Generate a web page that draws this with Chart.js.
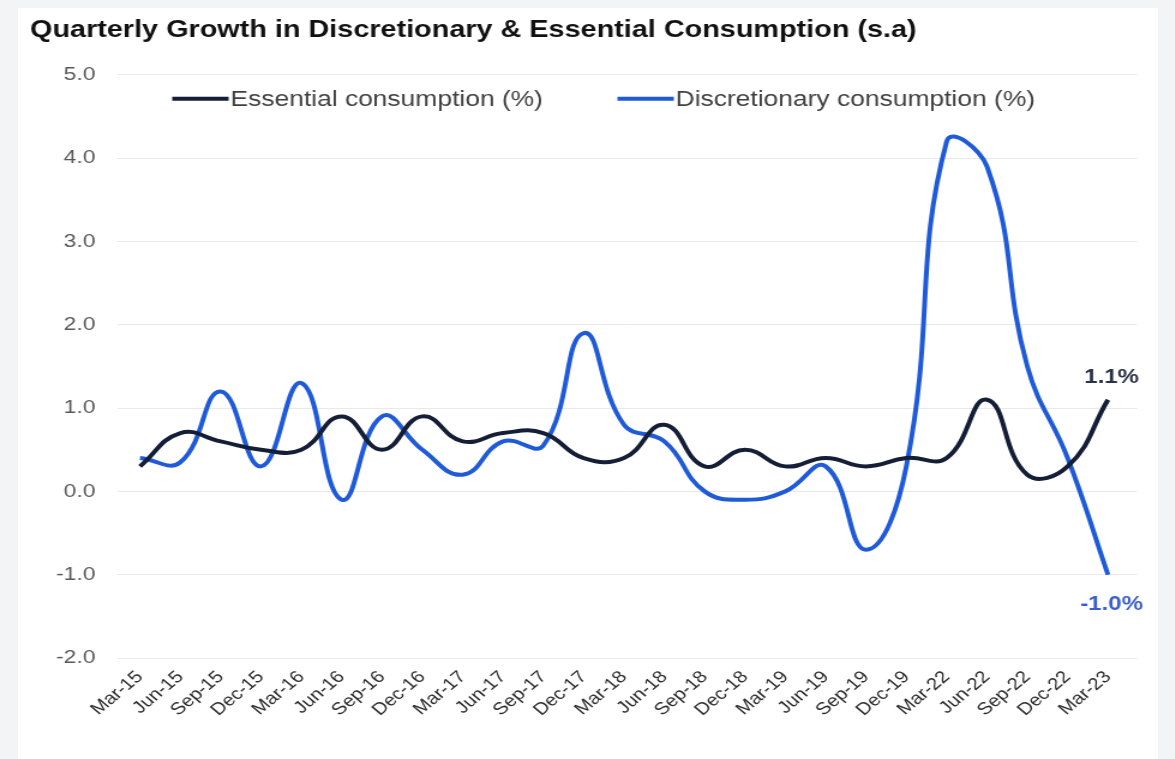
<!DOCTYPE html>
<html>
<head>
<meta charset="utf-8">
<title>Quarterly Growth in Discretionary & Essential Consumption</title>
<script src="https://cdn.jsdelivr.net/npm/chart.js@4.4.1/dist/chart.umd.min.js"></script>
<style>
    body {
        margin: 0;
        background: #f3f4f6;
        font-family: 'Liberation Sans', Arial, sans-serif;
    }
    .panel {
        position: absolute;
        left: 18px;
        top: 8px;
        width: 1140px;
        height: 751px;
        background: #ffffff;
        overflow: hidden;
    }
    /* the chart is laid out narrow and widened, which gives the broad lettering */
    #consumptionChart {
        transform: scaleX(1.2);
        transform-origin: left top;
    }
</style>
</head>
<body>
<div class="panel">
    <canvas id="consumptionChart" width="950" height="751"></canvas>
</div>
<script>
const quarterLabels = [
    'Mar-15', 'Jun-15', 'Sep-15', 'Dec-15',
    'Mar-16', 'Jun-16', 'Sep-16', 'Dec-16',
    'Mar-17', 'Jun-17', 'Sep-17', 'Dec-17',
    'Mar-18', 'Jun-18', 'Sep-18', 'Dec-18',
    'Mar-19', 'Jun-19', 'Sep-19', 'Dec-19',
    'Mar-22', 'Jun-22', 'Sep-22', 'Dec-22',
    'Mar-23',
];
const essentialData = [
    0.3, 0.7, 0.6, 0.5, 0.5, 0.9, 0.5, 0.9, 0.6, 0.7, 0.7, 0.4, 0.4,
    0.8, 0.3, 0.5, 0.3, 0.4, 0.3, 0.4, 0.4, 1.1, 0.2, 0.3, 1.1,
];
const discretionaryData = [
    0.4, 0.35, 1.2, 0.3, 1.3, -0.1, 0.9, 0.5, 0.2, 0.6, 0.55, 1.9, 0.8,
    0.6, 0.0, -0.1, 0.0, 0.3, -0.7, 0.3, 4.2, 3.9, 1.5, 0.4, -1.0,
];
const yTicks = [-2, -1, 0, 1, 2, 3, 4, 5];
const titleText = 'Quarterly Growth in Discretionary & Essential Consumption (s.a)';
const labelEssential = 'Essential consumption (%)';
const labelDiscretionary = 'Discretionary consumption (%)';

const navy = '#141e36';
const blue = '#1f5ad8';
const fontFamily = '"Liberation Sans", Arial, sans-serif';

// linear x axis so the first/last quarter sit a little inside the grid
const toPoints = (data) => data.map((v, i) => ({ x: i, y: v }));

// legend drawn inside the plot, line swatch touching the text
const lineLegend = {
    id: 'lineLegend',
    afterDraw(chart) {
        const ctx = chart.ctx;
        const area = chart.chartArea;
        const items = [
            { offset: 46, ds: chart.data.datasets[0] },
            { offset: 417, ds: chart.data.datasets[1] },
        ];
        ctx.save();
        ctx.font = '22px ' + fontFamily;
        ctx.textBaseline = 'middle';
        items.forEach((item) => {
            const x = area.left + item.offset;
            const y = area.top + 24;
            ctx.strokeStyle = item.ds.borderColor;
            ctx.lineWidth = 4;
            ctx.beginPath();
            ctx.moveTo(x, y);
            ctx.lineTo(x + 47, y);
            ctx.stroke();
            ctx.fillStyle = '#404040';
            ctx.fillText(item.ds.label, x + 48.5, y + 1);
        });
        ctx.restore();
    },
};

// value of the last quarter printed next to the line end
const endLabels = {
    id: 'endLabels',
    afterDatasetsDraw(chart) {
        const ctx = chart.ctx;
        ctx.save();
        ctx.font = 'bold 20px ' + fontFamily;
        ctx.textAlign = 'center';
        ctx.textBaseline = 'middle';
        chart.data.datasets.forEach((ds, i) => {
            const meta = chart.getDatasetMeta(i);
            const last = meta.data[meta.data.length - 1];
            const value = ds.data[ds.data.length - 1].y;
            const dy = i == 0 ? -22 : 30;
            ctx.fillStyle = i == 0 ? '#2a3248' : '#3a5fcd';
            ctx.fillText(value.toFixed(1) + '%', last.x + 3, last.y + dy);
        });
        ctx.restore();
    },
};

function loadChart() {
    return new Chart(document.getElementById('consumptionChart').getContext('2d'), {
        type: 'line',
        data: {
            datasets: [
                {
                    label: labelEssential,
                    data: toPoints(essentialData),
                    borderColor: navy,
                    borderWidth: 4,
                    tension: 0.45,
                    pointRadius: 0,
                    fill: false,
                },
                {
                    label: labelDiscretionary,
                    data: toPoints(discretionaryData),
                    borderColor: blue,
                    borderWidth: 4,
                    tension: 0.45,
                    pointRadius: 0,
                    fill: false,
                },
            ],
        },
        options: {
            responsive: false,
            animation: false,
            layout: {
                padding: { left: 10, right: 17.5, top: 0, bottom: 0 },
            },
            plugins: {
                legend: { display: false },
                tooltip: { enabled: false },
                title: {
                    display: true,
                    text: titleText,
                    align: 'start',
                    color: '#111111',
                    font: { family: fontFamily, size: 24, weight: 'bold' },
                    padding: { top: 8, bottom: 30 },
                },
            },
            scales: {
                x: {
                    type: 'linear',
                    min: -0.57,
                    max: 24.72,
                    grid: { display: false, drawTicks: false },
                    border: { display: false },
                    afterFit(scale) {
                        scale.height = 101;
                    },
                    ticks: {
                        stepSize: 1,
                        includeBounds: false,
                        autoSkip: false,
                        minRotation: 45,
                        maxRotation: 45,
                        padding: 9,
                        color: '#2b2b2b',
                        font: { family: fontFamily, size: 17 },
                        callback: (value) => quarterLabels[value] || '',
                    },
                },
                y: {
                    min: yTicks[0],
                    max: yTicks[yTicks.length - 1],
                    grid: { color: '#e9e9e9', lineWidth: 1, drawTicks: false },
                    border: { display: false },
                    afterFit(scale) {
                        scale.width = 72.5;
                    },
                    ticks: {
                        stepSize: 1,
                        padding: 18,
                        color: '#595959',
                        font: { family: fontFamily, size: 19 },
                        callback: (value) => value.toFixed(1),
                    },
                },
            },
        },
        plugins: [lineLegend, endLabels],
    });
}

loadChart();
</script>
</body>
</html>
